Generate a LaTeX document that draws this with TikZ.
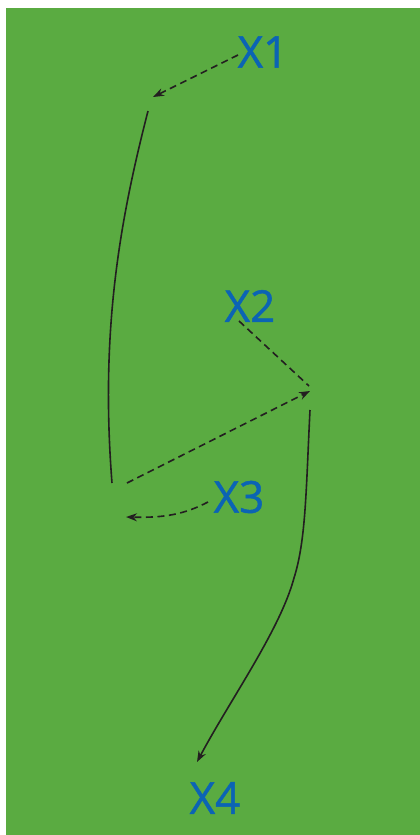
\documentclass[tikz,border=0pt]{standalone}
\usepackage{fontspec}
\setmainfont{Open Sans}
\newfontfamily\labfont[FakeBold=1.2]{Open Sans}
\usetikzlibrary{arrows.meta}
\definecolor{bg}{HTML}{5AAB41}
\definecolor{lbl}{HTML}{0B64B4}
\definecolor{ln}{HTML}{231F20}
\begin{document}
\begin{tikzpicture}[x=1pt,y=-1pt,
  lab/.style={text=lbl,font=\labfont\fontsize{44}{44}\selectfont,inner sep=0pt},
  dsh/.style={draw=ln,line width=1.6pt,dash pattern=on 7pt off 4.5pt},
  sol/.style={draw=ln,line width=1.6pt},
  tip/.style={-{Stealth[length=11pt,width=8pt]}}]
\useasboundingbox (0,0) rectangle (420,835);
\fill[bg] (6,8) rectangle (420,835);
\node[lab] (x1) at (263,52) {X1};
\node[lab] (x2) at (250,306) {X2};
\node[lab] (x3) at (239,497) {X3};
\node[lab] (x4) at (215,798) {X4};
\coordinate (a1) at (153,97);
\coordinate (s1) at (148,111);
\coordinate (e1) at (112,483);
\coordinate (d2) at (239,321);
\coordinate (p2) at (309,386);
\coordinate (d3) at (127,483);
\coordinate (a3) at (310,391);
\coordinate (b3) at (208,502);
\coordinate (c3) at (126,517);
\coordinate (s4) at (310,410);
\coordinate (a4) at (197,762);
\draw[dsh,tip] (238,55) -- (a1);
\draw[sol] (s1) .. controls (120,220) and (100,330) .. (e1);
\draw[dsh] (d2) -- (p2);
\draw[dsh,tip] (d3) -- (a3);
\draw[dsh,tip] (b3) .. controls (185,514) and (165,518) .. (c3);
\draw[sol,tip] (s4) .. controls (306,490) and (306,540) .. (294,578) .. controls (280,630) and (230,700) .. (a4);
\end{tikzpicture}
\end{document}
